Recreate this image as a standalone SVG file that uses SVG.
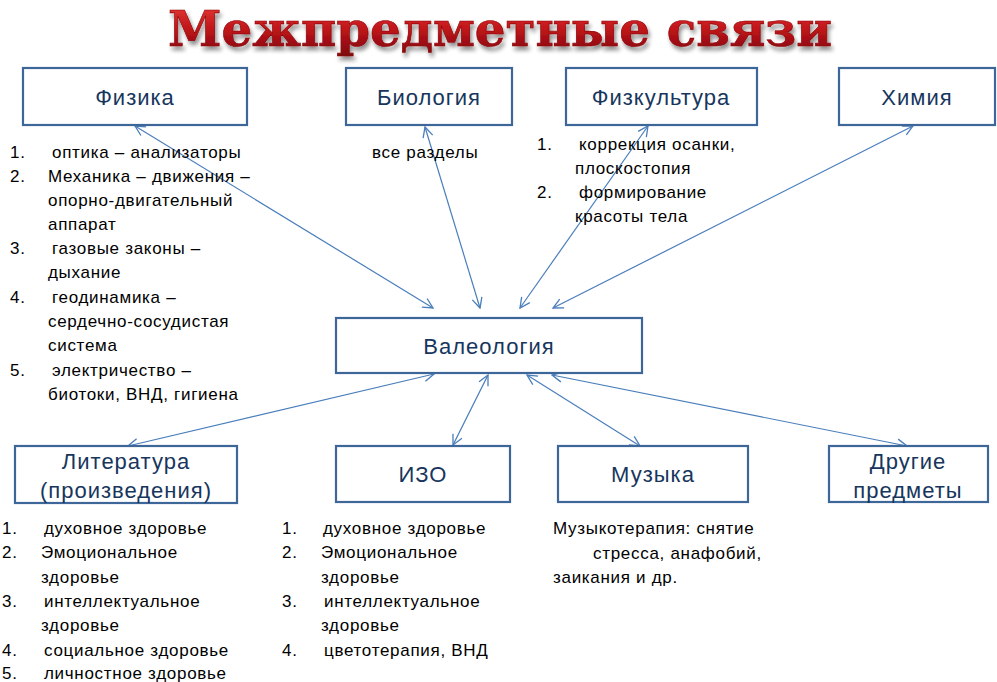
<svg xmlns="http://www.w3.org/2000/svg" width="997" height="682" viewBox="0 0 997 682">
<defs>
<linearGradient id="tg" x1="0" y1="0" x2="0" y2="1">
<stop offset="0" stop-color="#E8403A"/>
<stop offset="0.5" stop-color="#C0141A"/>
<stop offset="1" stop-color="#7A0A0E"/>
</linearGradient>
<marker id="ah" viewBox="0 0 12 12" refX="11" refY="6" markerWidth="12" markerHeight="12" markerUnits="userSpaceOnUse" orient="auto-start-reverse">
<path d="M1,1 L11,6 L1,11" fill="none" stroke="#4A7EBB" stroke-width="1.3"/>
</marker>
<filter id="sh" x="-5%" y="-20%" width="110%" height="150%">
<feGaussianBlur in="SourceAlpha" stdDeviation="2"/>
<feOffset dx="2" dy="4" result="b"/>
<feComponentTransfer><feFuncA type="linear" slope="0.45"/></feComponentTransfer>
<feMerge><feMergeNode/><feMergeNode in="SourceGraphic"/></feMerge>
</filter>
</defs>
<style>
.box{fill:#FFFFFF;stroke:#3D6699;stroke-width:2.2}
.lbl{font-family:"Liberation Sans","Noto Sans",sans-serif;font-size:22px;letter-spacing:1px;fill:#17365D;text-anchor:middle}
.t{font-family:"Liberation Sans","Noto Sans",sans-serif;font-size:17px;letter-spacing:0.7px;fill:#000000}
.con{fill:none;stroke:#4A7EBB;stroke-width:1.2;marker-start:url(#ah);marker-end:url(#ah)}
.title{font-family:"DejaVu Serif","Liberation Serif",serif;font-weight:bold;font-size:48px;fill:url(#tg);stroke:#8B0000;stroke-width:0.6}
</style>
<rect width="997" height="682" fill="#FFFFFF"/>
<text class="title" x="168" y="46" textLength="664" lengthAdjust="spacingAndGlyphs" filter="url(#sh)">Межпредметные связи</text>

<g id="connectors">
<line class="con" x1="135" y1="126" x2="433" y2="308"/>
<line class="con" x1="425" y1="127" x2="480" y2="308"/>
<line class="con" x1="648" y1="126" x2="520" y2="308"/>
<line class="con" x1="913" y1="126" x2="553" y2="308"/>
<line class="con" x1="434" y1="374" x2="128" y2="446"/>
<line class="con" x1="488" y1="375" x2="453" y2="445"/>
<line class="con" x1="527" y1="375" x2="640" y2="446"/>
<line class="con" x1="552" y1="375" x2="907" y2="446"/>
</g>

<g id="fizika">
<rect class="box" x="23" y="68" width="224" height="57"/>
<text class="lbl" x="135" y="105">Физика</text>
<text class="t" x="10" y="158">1.</text><text class="t" x="52" y="158">оптика – анализаторы</text>
<text class="t" x="10" y="182">2.</text><text class="t" x="48" y="182">Механика – движения –</text>
<text class="t" x="48" y="206">опорно-двигательный</text>
<text class="t" x="48" y="230">аппарат</text>
<text class="t" x="10" y="254">3.</text><text class="t" x="52" y="254">газовые законы –</text>
<text class="t" x="48" y="278">дыхание</text>
<text class="t" x="10" y="303">4.</text><text class="t" x="52" y="303">геодинамика –</text>
<text class="t" x="48" y="327">сердечно-сосудистая</text>
<text class="t" x="48" y="351">система</text>
<text class="t" x="10" y="376">5.</text><text class="t" x="52" y="376">электричество –</text>
<text class="t" x="48" y="400">биотоки, ВНД, гигиена</text>
</g>

<g id="biologia">
<rect class="box" x="346" y="68" width="166" height="57"/>
<text class="lbl" x="429" y="105">Биология</text>
<text class="t" x="372" y="158">все разделы</text>
</g>

<g id="fizkultura">
<rect class="box" x="566" y="68" width="191" height="57"/>
<text class="lbl" x="661" y="105">Физкультура</text>
<text class="t" x="537" y="150">1.</text><text class="t" x="579" y="150">коррекция осанки,</text>
<text class="t" x="575" y="174">плоскостопия</text>
<text class="t" x="537" y="198">2.</text><text class="t" x="579" y="198">формирование</text>
<text class="t" x="575" y="222">красоты тела</text>
</g>

<g id="himia">
<rect class="box" x="839" y="68" width="156" height="57"/>
<text class="lbl" x="917" y="105">Химия</text>
</g>

<g id="valeologia">
<rect class="box" x="336" y="318" width="306" height="55"/>
<text class="lbl" x="489" y="354">Валеология</text>
</g>

<g id="literatura">
<rect class="box" x="15" y="446" width="222" height="57"/>
<text class="lbl" x="126" y="469">Литература</text>
<text class="lbl" x="126" y="498">(произведения)</text>
<text class="t" x="2" y="534">1.</text><text class="t" x="44" y="534">духовное здоровье</text>
<text class="t" x="2" y="558">2.</text><text class="t" x="41" y="558">Эмоциональное</text>
<text class="t" x="41" y="583">здоровье</text>
<text class="t" x="2" y="607">3.</text><text class="t" x="44" y="607">интеллектуальное</text>
<text class="t" x="41" y="631">здоровье</text>
<text class="t" x="2" y="656">4.</text><text class="t" x="44" y="656">социальное здоровье</text>
<text class="t" x="2" y="679">5.</text><text class="t" x="44" y="679">личностное здоровье</text>
</g>

<g id="izo">
<rect class="box" x="336" y="446" width="174" height="56"/>
<text class="lbl" x="423" y="482">ИЗО</text>
<text class="t" x="282" y="534">1.</text><text class="t" x="323" y="534">духовное здоровье</text>
<text class="t" x="282" y="558">2.</text><text class="t" x="321" y="558">Эмоциональное</text>
<text class="t" x="321" y="583">здоровье</text>
<text class="t" x="282" y="607">3.</text><text class="t" x="324" y="607">интеллектуальное</text>
<text class="t" x="321" y="631">здоровье</text>
<text class="t" x="282" y="656">4.</text><text class="t" x="324" y="656">цветотерапия, ВНД</text>
</g>

<g id="muzyka">
<rect class="box" x="558" y="446" width="190" height="56"/>
<text class="lbl" x="653" y="482">Музыка</text>
<text class="t" x="553" y="534">Музыкотерапия: снятие</text>
<text class="t" x="593" y="559">стресса, анафобий,</text>
<text class="t" x="553" y="583">заикания и др.</text>
</g>

<g id="drugie">
<rect class="box" x="829" y="446" width="159" height="56"/>
<text class="lbl" x="908" y="469">Другие</text>
<text class="lbl" x="908" y="498">предметы</text>
</g>
</svg>
